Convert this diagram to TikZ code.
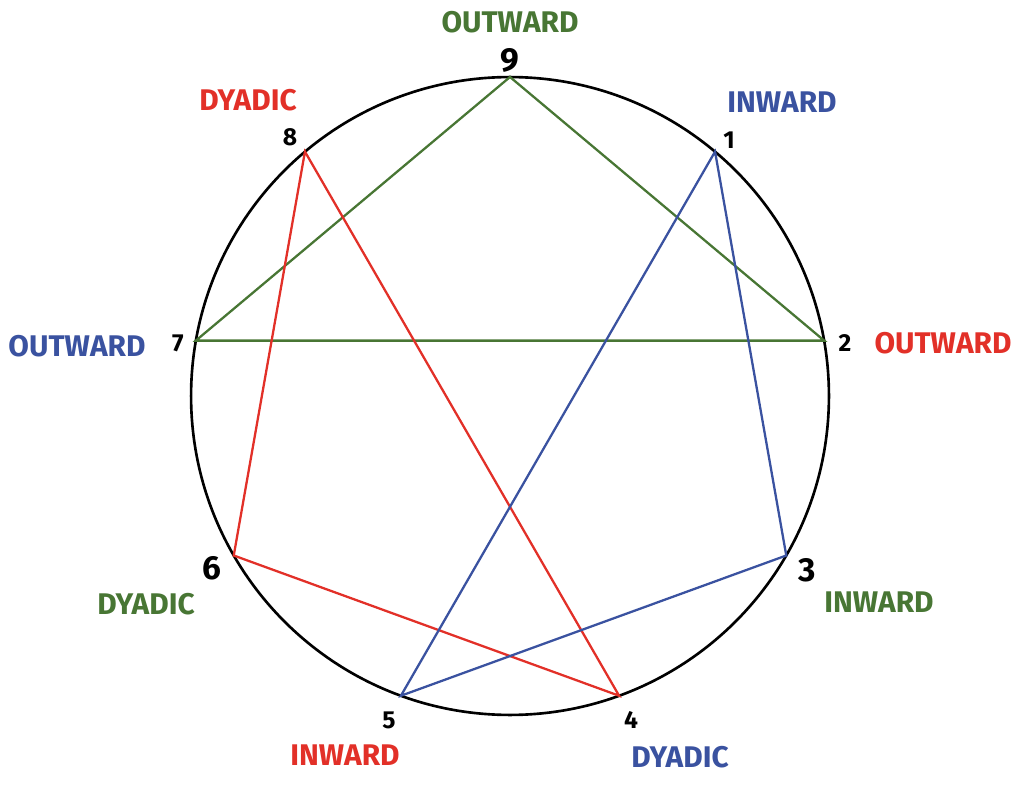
\documentclass[tikz,border=0pt]{standalone}
\usepackage{fontspec}
\setmainfont{Fira Sans}
\definecolor{grn}{RGB}{72,118,52}
\definecolor{rd}{RGB}{226,48,40}
\definecolor{bl}{RGB}{58,82,160}
\tikzset{
  lbl/.style={font=\fontsize{17}{19}\selectfont\bfseries},
  num/.style={font=\fontsize{14}{16}\selectfont\bfseries},
  bignum/.style={font=\fontsize{19}{21}\selectfont\bfseries},
  side/.style={line width=1.3pt}
}
\begin{document}
\begin{tikzpicture}[x=0.02cm,y=-0.02cm]
\useasboundingbox (0,0) rectangle (1024,787);
\coordinate (c) at (510,396);
\draw[line width=1.5pt] (c) circle[radius=6.38cm];
\foreach \k in {1,...,9} {
  \coordinate (p\k) at ({510+319*sin(40*\k)},{396-319*cos(40*\k)});
}
% triangles
\draw[side,grn] (p9) -- (p7) -- (p2) -- cycle;
\draw[side,rd] (p8) -- (p6) -- (p4) -- cycle;
\draw[side,bl] (p1) -- (p3) -- (p5) -- cycle;
% numbers
\node[bignum] (n9) at (510,60) {9};
\node[num] (n8) at (290,137) {8};
\node[num] (n1) at (729,140) {1};
\node[num] (n7) at (178,343) {7};
\node[num] (n2) at (845,343) {2};
\node[bignum] (n6) at (212,568) {6};
\node[bignum] (n3) at (807,570) {3};
\node[num] (n5) at (389,720) {5};
\node[num] (n4) at (631,720) {4};
% labels
\node[lbl,grn] (l9) at (510,22) {OUTWARD};
\node[lbl,rd] (l8) at (248,100) {DYADIC};
\node[lbl,bl] (l1) at (782,102) {INWARD};
\node[lbl,bl] (l7) at (77,346) {OUTWARD};
\node[lbl,rd] (l2) at (943,343) {OUTWARD};
\node[lbl,grn] (l6) at (146,604) {DYADIC};
\node[lbl,grn] (l3) at (879,602) {INWARD};
\node[lbl,rd] (l5) at (345,755) {INWARD};
\node[lbl,bl] (l4) at (680,757) {DYADIC};
\end{tikzpicture}
\end{document}
